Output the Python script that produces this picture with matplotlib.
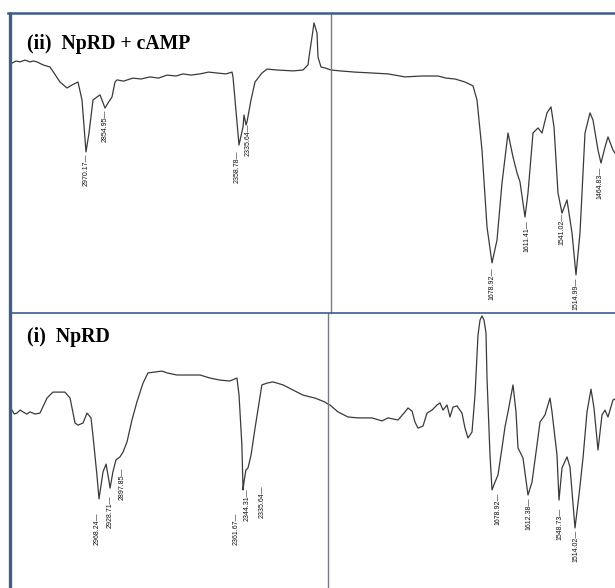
import matplotlib
matplotlib.use("Agg")
import matplotlib.pyplot as plt
from matplotlib.lines import Line2D

# ---- spectrum (ii) NpRD + cAMP, 3280-2000 cm-1 part
top_w_hi = [3276, 3260, 3244, 3224, 3204, 3190, 3176, 3152, 3124, 3084, 3056, 3036, 3012,
            2996, 2980, 2968, 2952, 2936, 2924, 2916, 2904, 2892, 2876, 2864, 2856,
            2830, 2792, 2760, 2724, 2690, 2656, 2620, 2592, 2560, 2524, 2490, 2456, 2420,
            2396, 2392, 2368, 2352, 2348, 2340, 2336, 2320, 2304, 2276, 2256, 2216, 2152,
            2112, 2092, 2088, 2076, 2068, 2056, 2052, 2040, 2024, 2000]
top_t_hi = [83.3, 84.0, 83.7, 84.3, 83.7, 84.0, 83.7, 82.7, 82.0, 77.0, 75.0, 76.0, 77.0,
            71.0, 53.7, 60.0, 71.0, 72.0, 72.7, 71.0, 68.3, 70.0, 72.0, 77.0, 77.7,
            77.3, 78.3, 78.0, 78.7, 78.3, 79.3, 79.0, 79.7, 79.3, 79.7, 80.3, 80.0, 79.7,
            80.3, 78.7, 56.0, 62.0, 66.0, 62.7, 63.7, 71.0, 77.0, 80.0, 81.3, 81.0, 80.7,
            81.0, 82.7, 85.3, 92.0, 96.7, 93.3, 85.3, 82.0, 81.7, 81.0]

# ---- spectrum (ii), 2000-1432 cm-1 part
top_w_lo = [2000, 1982, 1952, 1918, 1886, 1852, 1818, 1786, 1770, 1752, 1732, 1716, 1708,
            1698, 1688, 1678, 1668, 1658, 1646, 1636, 1628, 1622, 1612, 1606, 1596, 1586,
            1578, 1568, 1560, 1554, 1546, 1538, 1528, 1518, 1510, 1502, 1492, 1482, 1476,
            1466, 1460, 1452, 1446, 1436, 1432]
top_t_lo = [81.0, 80.7, 80.3, 80.0, 79.7, 78.7, 79.0, 79.0, 78.3, 78.0, 77.0, 75.7, 71.0,
            54.3, 28.7, 16.7, 24.3, 43.3, 60.0, 52.0, 46.7, 43.7, 32.0, 40.0, 60.0, 61.7,
            60.0, 66.7, 68.7, 62.0, 40.0, 33.3, 37.7, 26.7, 12.7, 26.7, 60.0, 66.7, 64.3,
            54.3, 50.0, 55.3, 58.7, 54.3, 53.3]

# ---- spectrum (i) NpRD, 3347-2000 cm-1 part
bot_w_hi = [3343, 3333, 3322, 3308, 3296, 3280, 3266, 3245, 3224, 3194, 3169, 3139, 3118,
            3096, 3075, 3062, 3041, 3024, 3007, 2999, 2982, 2973, 2956, 2943, 2935, 2926,
            2914, 2901, 2884, 2871, 2854, 2833, 2812, 2786, 2765, 2735, 2706, 2684, 2642,
            2599, 2544, 2502, 2459, 2417, 2387, 2378, 2366, 2361, 2357, 2349, 2340, 2327,
            2310, 2281, 2259, 2234, 2191, 2149, 2106, 2076, 2055, 2013, 2000]
bot_t_hi = [59.3, 58.0, 58.3, 59.3, 58.7, 58.0, 58.7, 58.0, 58.3, 63.3, 65.3, 65.3, 65.3,
            63.3, 55.0, 54.3, 55.0, 58.3, 56.7, 51.0, 37.7, 29.7, 38.7, 41.3, 37.7, 33.3,
            38.7, 42.7, 43.7, 45.3, 48.7, 56.0, 62.0, 68.3, 71.7, 72.0, 72.3, 71.7, 71.0,
            71.0, 71.0, 70.0, 69.3, 69.0, 70.0, 64.3, 47.7, 32.7, 35.3, 39.3, 40.0, 44.3,
            53.3, 67.7, 68.3, 68.7, 67.7, 66.0, 64.3, 63.7, 63.3, 62.0, 61.3]

# ---- spectrum (i), 2008-1434 cm-1 part
bot_w_lo = [2008, 2004, 1988, 1968, 1948, 1920, 1900, 1888, 1868, 1854, 1848, 1840, 1834,
            1828, 1818, 1810, 1800, 1790, 1784, 1778, 1770, 1764, 1758, 1750, 1740, 1734,
            1728, 1720, 1714, 1708, 1704, 1700, 1696, 1692, 1690, 1684, 1680, 1674, 1668,
            1660, 1654, 1648, 1638, 1632, 1628, 1618, 1608, 1600, 1590, 1584, 1574, 1564,
            1560, 1550, 1546, 1540, 1530, 1524, 1514, 1506, 1498, 1490, 1482, 1476, 1468,
            1460, 1454, 1448, 1438, 1434]
bot_t_lo = [61.3, 61.0, 58.7, 57.0, 56.7, 56.7, 55.7, 56.7, 56.0, 58.7, 60.0, 59.0, 55.3,
            53.3, 54.0, 58.3, 59.3, 61.0, 61.7, 59.3, 61.0, 57.0, 60.3, 60.7, 58.3, 53.3,
            50.0, 52.0, 64.3, 84.3, 89.3, 90.7, 89.3, 85.0, 70.0, 44.3, 32.7, 35.3, 37.7,
            46.7, 53.7, 58.7, 67.7, 58.7, 46.7, 43.3, 31.0, 35.3, 47.7, 55.3, 57.7, 63.3,
            58.7, 44.3, 29.3, 40.0, 43.7, 40.3, 20.0, 31.0, 43.3, 58.7, 66.3, 60.0, 46.0,
            57.7, 59.3, 57.0, 62.7, 63.0]

# peak labels: (text, wavenumber position, top of label)
top_peaks_hi = [("2970.17", 2980, 53.0), ("2854.95", 2904, 67.7),
                ("2358.78", 2376, 54.3), ("2335.64", 2332, 63.3)]
top_peaks_lo = [("1678.92", 1678, 15.3), ("1611.41", 1608, 31.0), ("1541.02", 1538, 33.3),
                ("1514.99", 1510, 11.7), ("1464.83", 1462, 48.7)]
bot_peaks_hi = [("2968.24", 2982, 25.3), ("2928.71", 2926, 31.0), ("2897.85", 2876, 40.3),
                ("2361.67", 2391, 25.3), ("2344.31", 2344, 33.3), ("2335.64", 2281, 34.3)]
bot_peaks_lo = [("1678.92", 1668, 32.0), ("1612.38", 1606, 30.3), ("1548.73", 1544, 26.7),
                ("1514.02", 1512, 19.3)]

W, H = 615, 588
fig = plt.figure(figsize=(W / 100, H / 100), dpi=100)
fig.patch.set_facecolor("white")

line_col = "#3a3a3a"
blue = "#3b5f8d"
gray = "#7d7880"


def px_axes(x0, y0, x1, y1):
    # axes from pixel box (top-left origin)
    return fig.add_axes([x0 / W, 1 - y1 / H, (x1 - x0) / W, (y1 - y0) / H])


def draw(ax, w, t, peaks, xlim, ylim, left_spine=False):
    ax.plot(w, t, color=line_col, lw=0.9)
    for label, pw, pt in peaks:
        ax.text(pw, pt, label + "\u2014", rotation=90, ha="center", va="top",
                fontsize=5.0, family=["Liberation Sans Narrow", "Liberation Sans"],
                color="#111111")
    ax.set_xlim(*xlim)
    ax.set_ylim(*ylim)
    ax.set_xticks([])
    ax.set_yticks([])
    for s in ax.spines.values():
        s.set_visible(False)
    if left_spine:
        ax.spines["left"].set_visible(True)
        ax.spines["left"].set_color(gray)
        ax.spines["left"].set_linewidth(1.0)
    ax.patch.set_alpha(0)


ax1 = px_axes(11, 13, 331, 313)
draw(ax1, top_w_hi, top_t_hi, top_peaks_hi, (3280, 2000), (0, 100))
ax2 = px_axes(331, 13, 615, 313)
draw(ax2, top_w_lo, top_t_lo, top_peaks_lo, (2000, 1432), (0, 100), left_spine=True)
ax3 = px_axes(11, 313, 328, 588)
draw(ax3, bot_w_hi, bot_t_hi, bot_peaks_hi, (3347, 2000), (0, 91.67))
ax4 = px_axes(328, 313, 615, 588)
draw(ax4, bot_w_lo, bot_t_lo, bot_peaks_lo, (2008, 1434), (0, 91.67), left_spine=True)

# blue frame
fig.add_artist(Line2D([9.5 / W, 9.5 / W], [0, 1 - 12 / H], color=blue, lw=2.4,
                      solid_capstyle="butt"))
fig.add_artist(Line2D([8 / W, 1], [1 - 13 / H, 1 - 13 / H], color=blue, lw=1.8))
fig.add_artist(Line2D([11 / W, 1], [1 - 313 / H, 1 - 313 / H], color=blue, lw=1.2))

title_kw = dict(fontsize=14.2, fontweight="bold", family="Liberation Serif", va="baseline")
fig.text(27 / W, 1 - 49 / H, "(ii)  NpRD + cAMP", **title_kw)
fig.text(27 / W, 1 - 342 / H, "(i)  NpRD", **title_kw)

fig.savefig("out.png", dpi=100)
